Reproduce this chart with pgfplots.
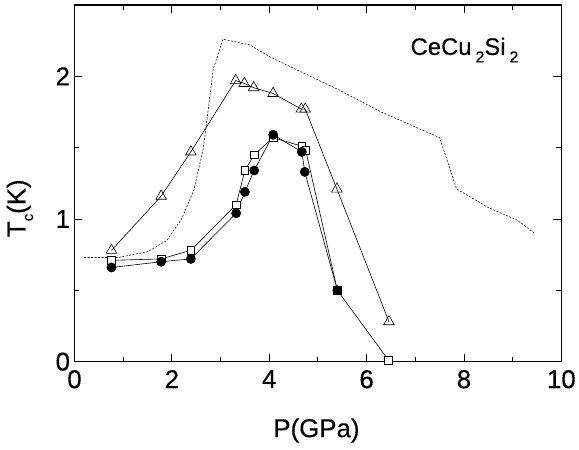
\documentclass[border=0pt]{standalone}
\usepackage{pgfplots}
\pgfplotsset{compat=1.18}
\usepackage{fontspec}
\setmainfont{Liberation Sans}[FakeBold=0.3]
\newcommand{\sub}[1]{\raisebox{-0.55ex}{\fontsize{15}{15}\selectfont #1}}
\newcommand{\subb}[1]{\,\raisebox{-0.6ex}{\fontsize{16}{16}\selectfont #1}}

\begin{document}
\begin{tikzpicture}[x=1pt,y=1pt]
\begin{axis}[
    scale only axis,
    width=490pt, height=359pt,
    xmin=0, xmax=10, ymin=0, ymax=2.5,
    xtick={0,2,...,10}, ytick={0,1,2},
    minor xtick={1,3,...,9}, minor ytick={0.5,1.5},
    tick align=inside,
    major tick length=8pt, minor tick length=5pt,
    tick style={line width=0.9pt,black},
    axis line style={line width=1.4pt},
    every axis plot/.append style={line width=0.6pt,black},
    /pgf/number format/assume math mode=true,
    tick label style={font=\fontsize{26}{28}\selectfont},
    xticklabel style={yshift=-5pt},
    yticklabel style={xshift=-1pt},
    clip=false,
    mark options={solid}]
% dashed curve
\addplot[line width=0.55pt, dash pattern=on 2pt off 1.5pt] coordinates {
(0.2,0.73) (0.9,0.73) (1.5,0.77) (1.9,0.85) (2.2,1.0) (2.45,1.2) (2.65,1.5)
(2.85,2.05) (3.05,2.26) (3.6,2.22) (4.05,2.13) (4.6,2.04) (5.4,1.91) (6.3,1.75)
(7.5,1.57) (7.85,1.21) (8.5,1.08) (9.1,0.99) (9.45,0.9)};
% triangles
\addplot[mark=triangle, mark size=6.2pt, mark options={fill=white,line width=0.6pt}] coordinates {
(0.76,0.78) (1.78,1.16) (2.39,1.47) (3.31,1.97) (3.49,1.95) (3.68,1.92)
(4.08,1.88) (4.66,1.77) (4.74,1.77) (5.39,1.21) (6.46,0.28)};
% squares
\addplot[mark=square*, mark size=3.8pt, mark options={fill=white,line width=0.6pt}] coordinates {
(0.76,0.71) (1.78,0.72) (2.39,0.78) (3.32,1.10) (3.50,1.34) (3.69,1.45)
(4.08,1.57) (4.67,1.51) (4.75,1.48) (5.40,0.50) (6.45,0.01)};
% circles
\addplot[mark=*, mark size=4.6pt, mark options={fill=black}] coordinates {
(0.76,0.66) (1.78,0.70) (2.39,0.72) (3.32,1.04) (3.50,1.19) (3.69,1.34)
(4.08,1.59) (4.67,1.47) (4.73,1.33) (5.40,0.50)};
\node[font=\fontsize{24}{26}\selectfont, anchor=base west, inner sep=0pt] at (axis cs:6.9,2.15) {CeCu\subb{2}Si\subb{2}};
\node[font=\fontsize{26}{28}\selectfont, rotate=90] at (rel axis cs:-0.112,0.43) {T\sub{c}(K)};
\node[font=\fontsize{26}{28}\selectfont] at (rel axis cs:0.497,-0.193) {P(GPa)};
\path (rel axis cs:-0.153,-0.245) rectangle (rel axis cs:1.0286,1.0139);
\end{axis}
\end{tikzpicture}
\end{document}
